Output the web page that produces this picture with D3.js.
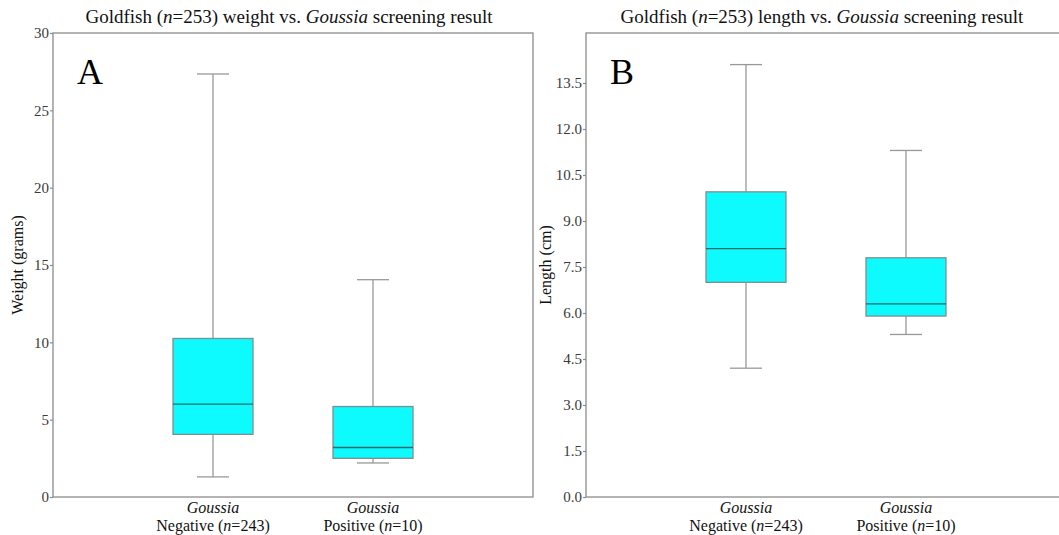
<!DOCTYPE html>
<html>
<head>
<meta charset="utf-8">
<script src="https://cdn.jsdelivr.net/npm/d3@7"></script>
<style>
  body { margin: 0; background: #fff; }
  svg { display: block; font-family: "Liberation Serif", "Times New Roman", serif; }
  .tick text { fill: #3a3a3a; font-size: 15px; }
  .tick line { stroke: #8c8c8c; stroke-width: 1.2; }
  .domain { display: none; }
</style>
</head>
<body>
<div class="chart"></div>
<script>
// DATA *************************************************************
var groups = ['Negative', 'Positive'];
var groupN = [243, 10];
// five-number summaries: [lower whisker, q1, median, q3, upper whisker]
var weightNeg = [1.3, 4.05, 6.0, 10.25, 27.35];
var weightPos = [2.2, 2.5, 3.2, 5.85, 14.05];
var lengthNeg = [4.2, 7.0, 8.1, 9.95, 14.1];
var lengthPos = [5.3, 5.9, 6.3, 7.8, 11.3];
var weightTicks = [0, 5, 10, 15, 20, 25, 30];
var lengthTicks = [0, 1.5, 3, 4.5, 6, 7.5, 9, 10.5, 12, 13.5];

// SVG ***************************************************************
var svg = d3.select('.chart').append('svg')
    .attr('width', 1059)
    .attr('height', 535);

// PANEL FUNCTION ****************************************************
function drawPanel(opt) {
    var width = 480, height = 464;
    var g = svg.append('g')
        .attr('transform', 'translate(' + opt.left + ',33)');

    // scales
    var x = d3.scaleLinear().domain([0, 3]).range([0, width]);
    var y = d3.scaleLinear().domain(opt.yDomain).range([height, 0]);

    var boxW = width / 6, capW = boxW * 0.4;

    // frame
    g.append('rect')
        .attr('width', width).attr('height', height)
        .attr('fill', 'none').attr('stroke', '#8c8c8c').attr('stroke-width', 1.3);

    // y axis
    g.append('g')
        .call(d3.axisLeft(y).tickValues(opt.ticks).tickSize(3).tickPadding(1)
              .tickFormat(opt.format))
        .attr('font-family', null)
        .attr('font-size', null);

    // boxes
    var boxes = g.selectAll('.box')
        .data(opt.stats)
        .enter().append('g')
        .attr('class', 'box')
        .attr('transform', function(d, i) { return 'translate(' + x(i + 1) + ',0)'; });

    // whiskers
    boxes.append('line')
        .attr('y1', function(d) { return y(d[4]); })
        .attr('y2', function(d) { return y(d[3]); })
        .attr('stroke', '#999').attr('stroke-width', 1.3);
    boxes.append('line')
        .attr('y1', function(d) { return y(d[1]); })
        .attr('y2', function(d) { return y(d[0]); })
        .attr('stroke', '#999').attr('stroke-width', 1.3);
    // caps
    [0, 4].forEach(function(k) {
        boxes.append('line')
            .attr('x1', -capW / 2).attr('x2', capW / 2)
            .attr('y1', function(d) { return y(d[k]); })
            .attr('y2', function(d) { return y(d[k]); })
            .attr('stroke', '#999').attr('stroke-width', 1.3);
    });
    // box
    boxes.append('rect')
        .attr('x', -boxW / 2).attr('width', boxW)
        .attr('y', function(d) { return y(d[3]); })
        .attr('height', function(d) { return y(d[1]) - y(d[3]); })
        .attr('fill', '#0dfbff').attr('stroke', '#7f8f8f').attr('stroke-width', 1.3);
    // median
    boxes.append('line')
        .attr('x1', -boxW / 2).attr('x2', boxW / 2)
        .attr('y1', function(d) { return y(d[2]); })
        .attr('y2', function(d) { return y(d[2]); })
        .attr('stroke', '#1f6a6a').attr('stroke-width', 1.3);

    // x labels
    var lab = g.selectAll('.xlab')
        .data(groups)
        .enter().append('text')
        .attr('class', 'xlab')
        .attr('x', function(d, i) { return x(i + 1); })
        .attr('text-anchor', 'middle')
        .style('font-size', '16px')
        .attr('fill', '#111');
    lab.append('tspan').attr('x', function(d, i) { return x(i + 1); }).attr('y', height + 16)
        .style('font-style', 'italic').text('Goussia');
    lab.append('tspan').attr('x', function(d, i) { return x(i + 1); }).attr('y', height + 34)
        .text(function(d) { return d + ' ('; })
        .append('tspan').style('font-style', 'italic').text('n');
    lab.append('tspan').text(function(d, i) { return '=' + groupN[i] + ')'; });

    // y title
    g.append('text')
        .attr('transform', 'translate(' + opt.yTitleX + ',' + height / 2 + ') rotate(-90)')
        .attr('text-anchor', 'middle')
        .style('font-size', '16px')
        .attr('fill', '#111')
        .text(opt.yTitle);

    // title
    var t = g.append('text')
        .attr('x', width / 2 - 4).attr('y', -10)
        .attr('text-anchor', 'middle')
        .style('font-size', '19px')
        .attr('fill', '#111');
    t.append('tspan').text('Goldfish (');
    t.append('tspan').style('font-style', 'italic').text('n');
    t.append('tspan').text('=253) ' + opt.measure + ' vs. ');
    t.append('tspan').style('font-style', 'italic').text('Goussia');
    t.append('tspan').text(' screening result');

    // panel letter
    g.append('text')
        .attr('x', 24).attr('y', 51)
        .style('font-size', '36px')
        .attr('fill', '#000')
        .text(opt.letter);
}

drawPanel({
    left: 53, letter: 'A', measure: 'weight',
    yDomain: [0, 30], ticks: weightTicks, format: d3.format('d'),
    yTitle: 'Weight (grams)', yTitleX: -30,
    stats: [weightNeg, weightPos]
});
drawPanel({
    left: 586, letter: 'B', measure: 'length',
    yDomain: [0, 15.13], ticks: lengthTicks, format: d3.format('.1f'),
    yTitle: 'Length (cm)', yTitleX: -35,
    stats: [lengthNeg, lengthPos]
});
</script>
</body>
</html>
